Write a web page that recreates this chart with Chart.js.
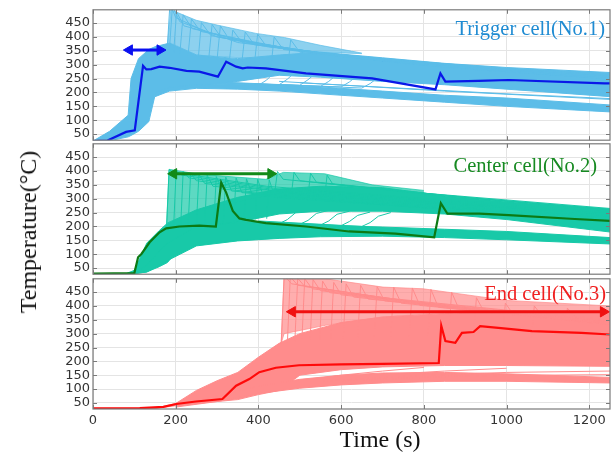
<!DOCTYPE html>
<html>
<head>
<meta charset="utf-8">
<script src="https://cdn.jsdelivr.net/npm/chart.js@4.4.1/dist/chart.umd.min.js"></script>
<style>
  body { margin: 0; background: #fff; }
  #wrap { position: relative; width: 613px; height: 459px; overflow: hidden; }
  canvas { position: absolute; left: 0; }
  .lbl { position: absolute; font-family: "Liberation Serif", "Times New Roman", serif; white-space: nowrap; }
</style>
</head>
<body>
<div id="wrap">
  <canvas id="c1" width="617" height="152" style="top:-1px"></canvas>
  <canvas id="c2" width="617" height="152" style="top:133px"></canvas>
  <canvas id="c3" width="617" height="165" style="top:268px"></canvas>
  <div class="lbl" style="right:8px;top:17px;font-size:20.5px;line-height:22px;color:#1f8bd2">Trigger cell(No.1)</div>
  <div class="lbl" style="right:16px;top:154px;font-size:20.5px;line-height:22px;color:#178a22">Center cell(No.2)</div>
  <div class="lbl" style="right:7px;top:282px;font-size:20.5px;line-height:22px;color:#f02020">End cell(No.3)</div>
  <div class="lbl" style="left:28px;top:232px;font-size:24px;line-height:26px;color:#111;transform:translate(-50%,-50%) rotate(-90deg)">Temperature(°C)</div>
  <div class="lbl" style="left:380px;top:426px;font-size:24px;line-height:26px;color:#111;transform:translateX(-50%)">Time (s)</div>
</div>
<script>
// axes
const xTicks = [0, 200, 400, 600, 800, 1000, 1200];
const yTicks = [50, 100, 150, 200, 250, 300, 350, 400, 450];

// ---- Trigger cell (No.1) ----
const trigMean = [[0,25],[35,27],[80,58],[101,64],[121,296],[129,283],[141,284],[161,293],[185,289],[226,278],[257,275],[302,257],[322,311],[346,293],[362,287],[374,290],[418,287],[515,269],[675,251],[828,211],[840,269],[852,239],[932,242],[1005,245],[1237,233],[1250,233]];
const t1Band = [0, 40, 85, 92, 110, 135, 150, 185, 250, 350, 450, 550, 700, 850, 1000, 1250];
const trigUpper = [25, 60, 118, 250, 322, 355, 365, 378, 335, 322, 335, 345, 325, 305, 290, 272];
const trigMid = [25, 26, 40, 45, 60, 95, 190, 212, 225, 240, 262, 255, 240, 228, 212, 185];
const t1Low = [150, 185, 250, 350, 450, 550, 700, 850, 1000, 1250];
const trigLowTop = [200, 218, 228, 230, 228, 220, 205, 190, 180, 155];
const trigLowBot = [185, 205, 215, 212, 205, 195, 180, 165, 150, 130];
const t1Spike = [180, 188, 250, 300, 394, 463, 550, 650];
const trigSpikeTop = [370, 498, 460, 443, 413, 398, 370, 342];
const trigSpikeBot = [370, 378, 335, 330, 322, 335, 345, 340];
const trigSpikes = [
  [[180,370],[186,520],[200,470],[300,400],[600,330],[1000,285],[1250,262]],
  [[185,360],[192,510],[210,455],[350,380],[700,315],[1250,255]],
  [[195,345],[202,490],[220,440],[400,370],[800,300],[1250,250]],
  [[210,340],[218,480],[240,430],[450,360],[900,290],[1250,258]],
  [[230,335],[238,465],[260,420],[500,350],[1000,280],[1250,262]],
  [[255,330],[262,452],[285,405],[550,340],[1250,255]],
  [[280,325],[288,445],[310,398],[600,330],[1250,258]],
  [[300,320],[308,440],[330,390],[650,322],[1250,252]],
  [[330,318],[338,425],[360,380],[700,315],[1250,250]],
  [[360,310],[368,418],[390,372],[750,305],[1250,250]],
  [[390,300],[398,410],[420,365],[800,300],[1250,248]],
  [[430,290],[438,400],[460,355],[850,290],[1250,250]],
  [[470,280],[478,390],[500,345],[900,285],[1250,250]]
];
const trigCurves = [
  [[250,232],[400,226],[420,245],[440,275],[470,290]],
  [[250,234],[450,228],[470,248],[490,275],[520,288]],
  [[250,236],[500,226],[520,246],[540,272],[570,285]],
  [[250,238],[550,222],[570,240],[590,265],[620,278]],
  [[300,236],[600,220],[620,238],[640,262],[680,272]],
  [[300,238],[650,216],[670,232],[690,255],[730,265]],
  [[450,240],[850,205],[1250,175]],
  [[500,235],[1000,195],[1250,178]]
];
const trigArrow = [[88,353],[162,353]];

// ---- Center cell (No.2) ----
const cenMean = [[0,30],[100,32],[109,89],[117,101],[137,143],[161,179],[177,193],[209,200],[257,203],[297,200],[310,358],[322,322],[338,256],[354,229],[370,224],[418,212],[515,200],[619,182],[731,174],[825,161],[841,284],[857,246],[934,246],[1005,241],[1165,227],[1250,220]];
const t2Band = [0, 80, 100, 130, 160, 180, 250, 350, 450, 550, 700, 850, 1000, 1250];
const cenUpper = [30, 30, 42, 140, 185, 212, 260, 305, 335, 345, 340, 310, 290, 262];
const cenMid = [30, 30, 30, 36, 55, 70, 195, 215, 245, 255, 255, 245, 225, 180];
const t2Low = [100, 130, 160, 180, 250, 350, 450, 550, 700, 850, 1000, 1250];
const cenLowTop = [32, 60, 110, 140, 200, 215, 212, 205, 198, 190, 182, 160];
const cenLowBot = [30, 36, 60, 77, 130, 148, 157, 163, 165, 160, 152, 137];
const t2Spike = [178, 184, 257, 418, 460, 560, 675, 800];
const cenSpikeTop = [210, 406, 388, 370, 395, 390, 350, 330];
const cenSpikeBot = [210, 215, 260, 310, 335, 345, 340, 322];
const cenSpikes = [
  [[178,200],[184,405],[195,395],[420,345],[800,300],[1250,258]],
  [[195,200],[201,400],[215,385],[450,335],[900,285],[1250,252]],
  [[212,200],[218,398],[232,375],[480,325],[1000,272],[1250,250]],
  [[230,202],[236,392],[250,365],[500,318],[1250,245]],
  [[250,204],[256,388],[270,355],[550,310],[1250,245]],
  [[270,205],[276,385],[290,345],[600,300],[1250,240]],
  [[292,205],[298,380],[312,335],[650,290],[1250,238]],
  [[315,210],[321,378],[335,328],[700,282],[1250,236]],
  [[340,215],[346,375],[360,322],[750,275],[1250,235]],
  [[365,220],[371,372],[385,315],[800,270],[1250,232]],
  [[392,225],[398,370],[412,310],[850,262],[1250,230]],
  [[420,228],[426,368],[440,305],[900,258],[1250,228]],
  [[440,330],[446,398],[460,370],[800,320],[1250,265]],
  [[480,320],[486,395],[500,365],[850,310],[1250,262]],
  [[520,312],[526,392],[540,360],[900,305],[1250,260]],
  [[560,305],[566,385],[580,352],[950,298],[1250,262]]
];
const cenCurves = [
  [[350,215],[450,210],[470,225],[490,250],[520,262]],
  [[350,217],[500,208],[520,222],[540,247],[570,258]],
  [[350,219],[550,205],[570,220],[590,244],[620,255]],
  [[400,218],[600,203],[620,218],[640,240],[670,252]],
  [[400,220],[650,200],[670,214],[690,237],[720,250]]
];
const cenArrow = [[195,390],[430,390]];

// ---- End cell (No.3) ----
const endMean = [[0,30],[113,31],[170,36],[201,46],[249,55],[313,64],[346,112],[378,136],[402,161],[442,177],[498,186],[600,189],[700,191],[836,194],[842,329],[852,273],[876,267],[892,303],[920,306],[936,327],[980,321],[1061,309],[1181,303],[1250,297]];
const t3Band = [0, 150, 200, 250, 300, 350, 400, 450, 500, 600, 700, 850, 1000, 1250];
const endUpper = [30, 30, 48, 95, 130, 160, 215, 265, 300, 340, 360, 372, 383, 378];
const endMid = [30, 30, 40, 48, 55, 62, 80, 95, 150, 170, 180, 185, 185, 182];
const t3Low = [200, 300, 400, 500, 600, 700, 850, 1000, 1250];
const endLowTop = [40, 75, 110, 135, 150, 158, 160, 155, 142];
const endLowBot = [35, 55, 84, 103, 115, 122, 128, 128, 122];
const t3Spike = [455, 462, 562, 701, 798, 1000, 1250];
const endSpikeTop = [265, 498, 498, 468, 462, 420, 400];
const endSpikeBot = [265, 300, 330, 360, 370, 383, 378];
const endSpikes = [
  [[455,262],[462,510],[480,480],[700,430],[1000,385],[1250,350]],
  [[470,268],[477,505],[495,475],[750,420],[1250,345]],
  [[488,272],[495,500],[512,470],[800,410],[1250,340]],
  [[505,275],[512,498],[530,462],[850,400],[1250,338]],
  [[525,278],[532,495],[550,455],[900,392],[1250,335]],
  [[548,280],[555,490],[572,448],[950,385],[1250,335]],
  [[575,282],[582,485],[600,440],[1000,378],[1250,338]],
  [[605,284],[612,480],[630,432],[1050,370],[1250,340]],
  [[640,286],[647,475],[665,425],[1100,362],[1250,340]],
  [[680,288],[687,470],[705,418],[1150,355],[1250,342]],
  [[720,290],[727,468],[745,410],[1250,340]],
  [[765,290],[772,465],[790,402],[1250,338]],
  [[810,292],[817,460],[835,395],[1250,335]],
  [[860,292],[867,450],[885,388],[1250,332]],
  [[920,290],[927,430],[945,380],[1250,335]],
  [[990,288],[997,410],[1015,372],[1250,338]],
  [[1060,285],[1067,400],[1085,365],[1250,340]],
  [[1140,282],[1147,392],[1165,362],[1250,345]]
];
const endCurves = [
  [[450,120],[600,150],[700,165],[800,178]],
  [[500,125],[700,152],[850,165],[1000,175]],
  [[550,128],[800,150],[1000,160],[1250,165]],
  [[600,130],[900,148],[1250,152]]
];
const endArrow = [[482,379],[1234,379]];

const pts = arr => arr.map(p => ({x: p[0], y: p[1]}));
const zip = (xs, ys) => xs.map((x, i) => ({x: x, y: ys[i]}));

function line(data, color, width) {
  return {data: data, borderColor: color, borderWidth: width, pointRadius: 0, fill: false, tension: 0};
}

function band(xs, top, bot, color) {
  return [
    {data: zip(xs, top), borderColor: color, borderWidth: 1, pointRadius: 0, fill: false},
    {data: zip(xs, bot), borderColor: color, borderWidth: 1, pointRadius: 0, fill: '-1', backgroundColor: color}
  ];
}

function arrow(data, color) {
  return {
    data: pts(data), borderColor: color, borderWidth: 3, clip: false,
    pointRadius: 6, pointStyle: 'triangle', pointRotation: [-90, 90],
    pointBackgroundColor: color, pointBorderColor: color, pointBorderWidth: 1
  };
}

function panelSets(o) {
  let sets = [arrow(o.arrow, o.arrowColor), line(pts(o.mean), o.meanColor, 2.2)];
  o.spikes.forEach(s => sets.push(line(pts(s), o.color, 1)));
  o.curves.forEach(s => sets.push(line(pts(s), o.color, 1)));
  sets = sets.concat(band(o.tSpike, o.spikeTop, o.spikeBot, o.haze));
  sets = sets.concat(band(o.tLow, o.lowTop, o.lowBot, o.color));
  sets = sets.concat(band(o.tBand, o.upper, o.mid, o.color));
  return sets;
}

const framePlugin = {
  id: 'frame',
  afterDraw(chart) {
    const ctx = chart.ctx, a = chart.chartArea, sx = chart.scales.x, sy = chart.scales.y;
    ctx.save();
    ctx.strokeStyle = '#7a7a7a';
    ctx.lineWidth = 1.2;
    ctx.strokeRect(a.left, a.top, a.right - a.left, a.bottom - a.top);
    ctx.lineWidth = 1;
    ctx.beginPath();
    xTicks.forEach(v => {
      const px = Math.round(sx.getPixelForValue(v)) + 0.5;
      ctx.moveTo(px, a.top); ctx.lineTo(px, a.top + 4);
      ctx.moveTo(px, a.bottom); ctx.lineTo(px, a.bottom - 4);
    });
    yTicks.forEach(v => {
      const py = Math.round(sy.getPixelForValue(v)) + 0.5;
      ctx.moveTo(a.left, py); ctx.lineTo(a.left + 4, py);
      ctx.moveTo(a.right, py); ctx.lineTo(a.right - 4, py);
    });
    ctx.stroke();
    ctx.restore();
  }
};

function makeChart(id, datasets, showX) {
  new Chart(document.getElementById(id), {
    type: 'line',
    data: {datasets: datasets},
    options: {
      responsive: false,
      animation: false,
      events: [],
      layout: {padding: {top: 0, right: 1, left: 0, bottom: 0}},
      plugins: {legend: {display: false}, tooltip: {enabled: false}},
      scales: {
        x: {
          type: 'linear', min: 0, max: 1250,
          afterBuildTicks: s => { s.ticks = xTicks.map(v => ({value: v})); },
          afterFit: s => { s.height = showX ? 24 : 0; },
          grid: {color: '#e4e4e4', drawTicks: false},
          border: {display: false},
          ticks: {display: showX, autoSkip: false, maxRotation: 0, padding: 4, color: '#333', font: {family: 'DejaVu Sans', size: 13}, callback: v => String(v)}
        },
        y: {
          type: 'linear', min: 28, max: 498,
          afterBuildTicks: s => { s.ticks = yTicks.map(v => ({value: v})); },
          afterFit: s => { s.width = 93; },
          grid: {color: '#e4e4e4', drawTicks: false},
          border: {display: false},
          ticks: {autoSkip: false, padding: 3, color: '#333', font: {family: 'DejaVu Sans', size: 13}, callback: v => String(v)}
        }
      }
    },
    plugins: [framePlugin]
  });
}

makeChart('c1', panelSets({
  mean: trigMean, meanColor: '#0a18e8', color: '#5cbde8', haze: 'rgba(92,189,232,0.7)',
  spikes: trigSpikes, curves: trigCurves,
  tSpike: t1Spike, spikeTop: trigSpikeTop, spikeBot: trigSpikeBot,
  tLow: t1Low, lowTop: trigLowTop, lowBot: trigLowBot,
  tBand: t1Band, upper: trigUpper, mid: trigMid,
  arrow: trigArrow, arrowColor: '#0a10f0'
}), false);

makeChart('c2', panelSets({
  mean: cenMean, meanColor: '#0c7a14', color: '#18c9a8', haze: 'rgba(24,201,168,0.7)',
  spikes: cenSpikes, curves: cenCurves,
  tSpike: t2Spike, spikeTop: cenSpikeTop, spikeBot: cenSpikeBot,
  tLow: t2Low, lowTop: cenLowTop, lowBot: cenLowBot,
  tBand: t2Band, upper: cenUpper, mid: cenMid,
  arrow: cenArrow, arrowColor: '#128a18'
}), false);

makeChart('c3', panelSets({
  mean: endMean, meanColor: '#ff0a0a', color: '#ff8c8c', haze: 'rgba(255,140,140,0.7)',
  spikes: endSpikes, curves: endCurves,
  tSpike: t3Spike, spikeTop: endSpikeTop, spikeBot: endSpikeBot,
  tLow: t3Low, lowTop: endLowTop, lowBot: endLowBot,
  tBand: t3Band, upper: endUpper, mid: endMid,
  arrow: endArrow, arrowColor: '#f01010'
}), true);
</script>
</body>
</html>
